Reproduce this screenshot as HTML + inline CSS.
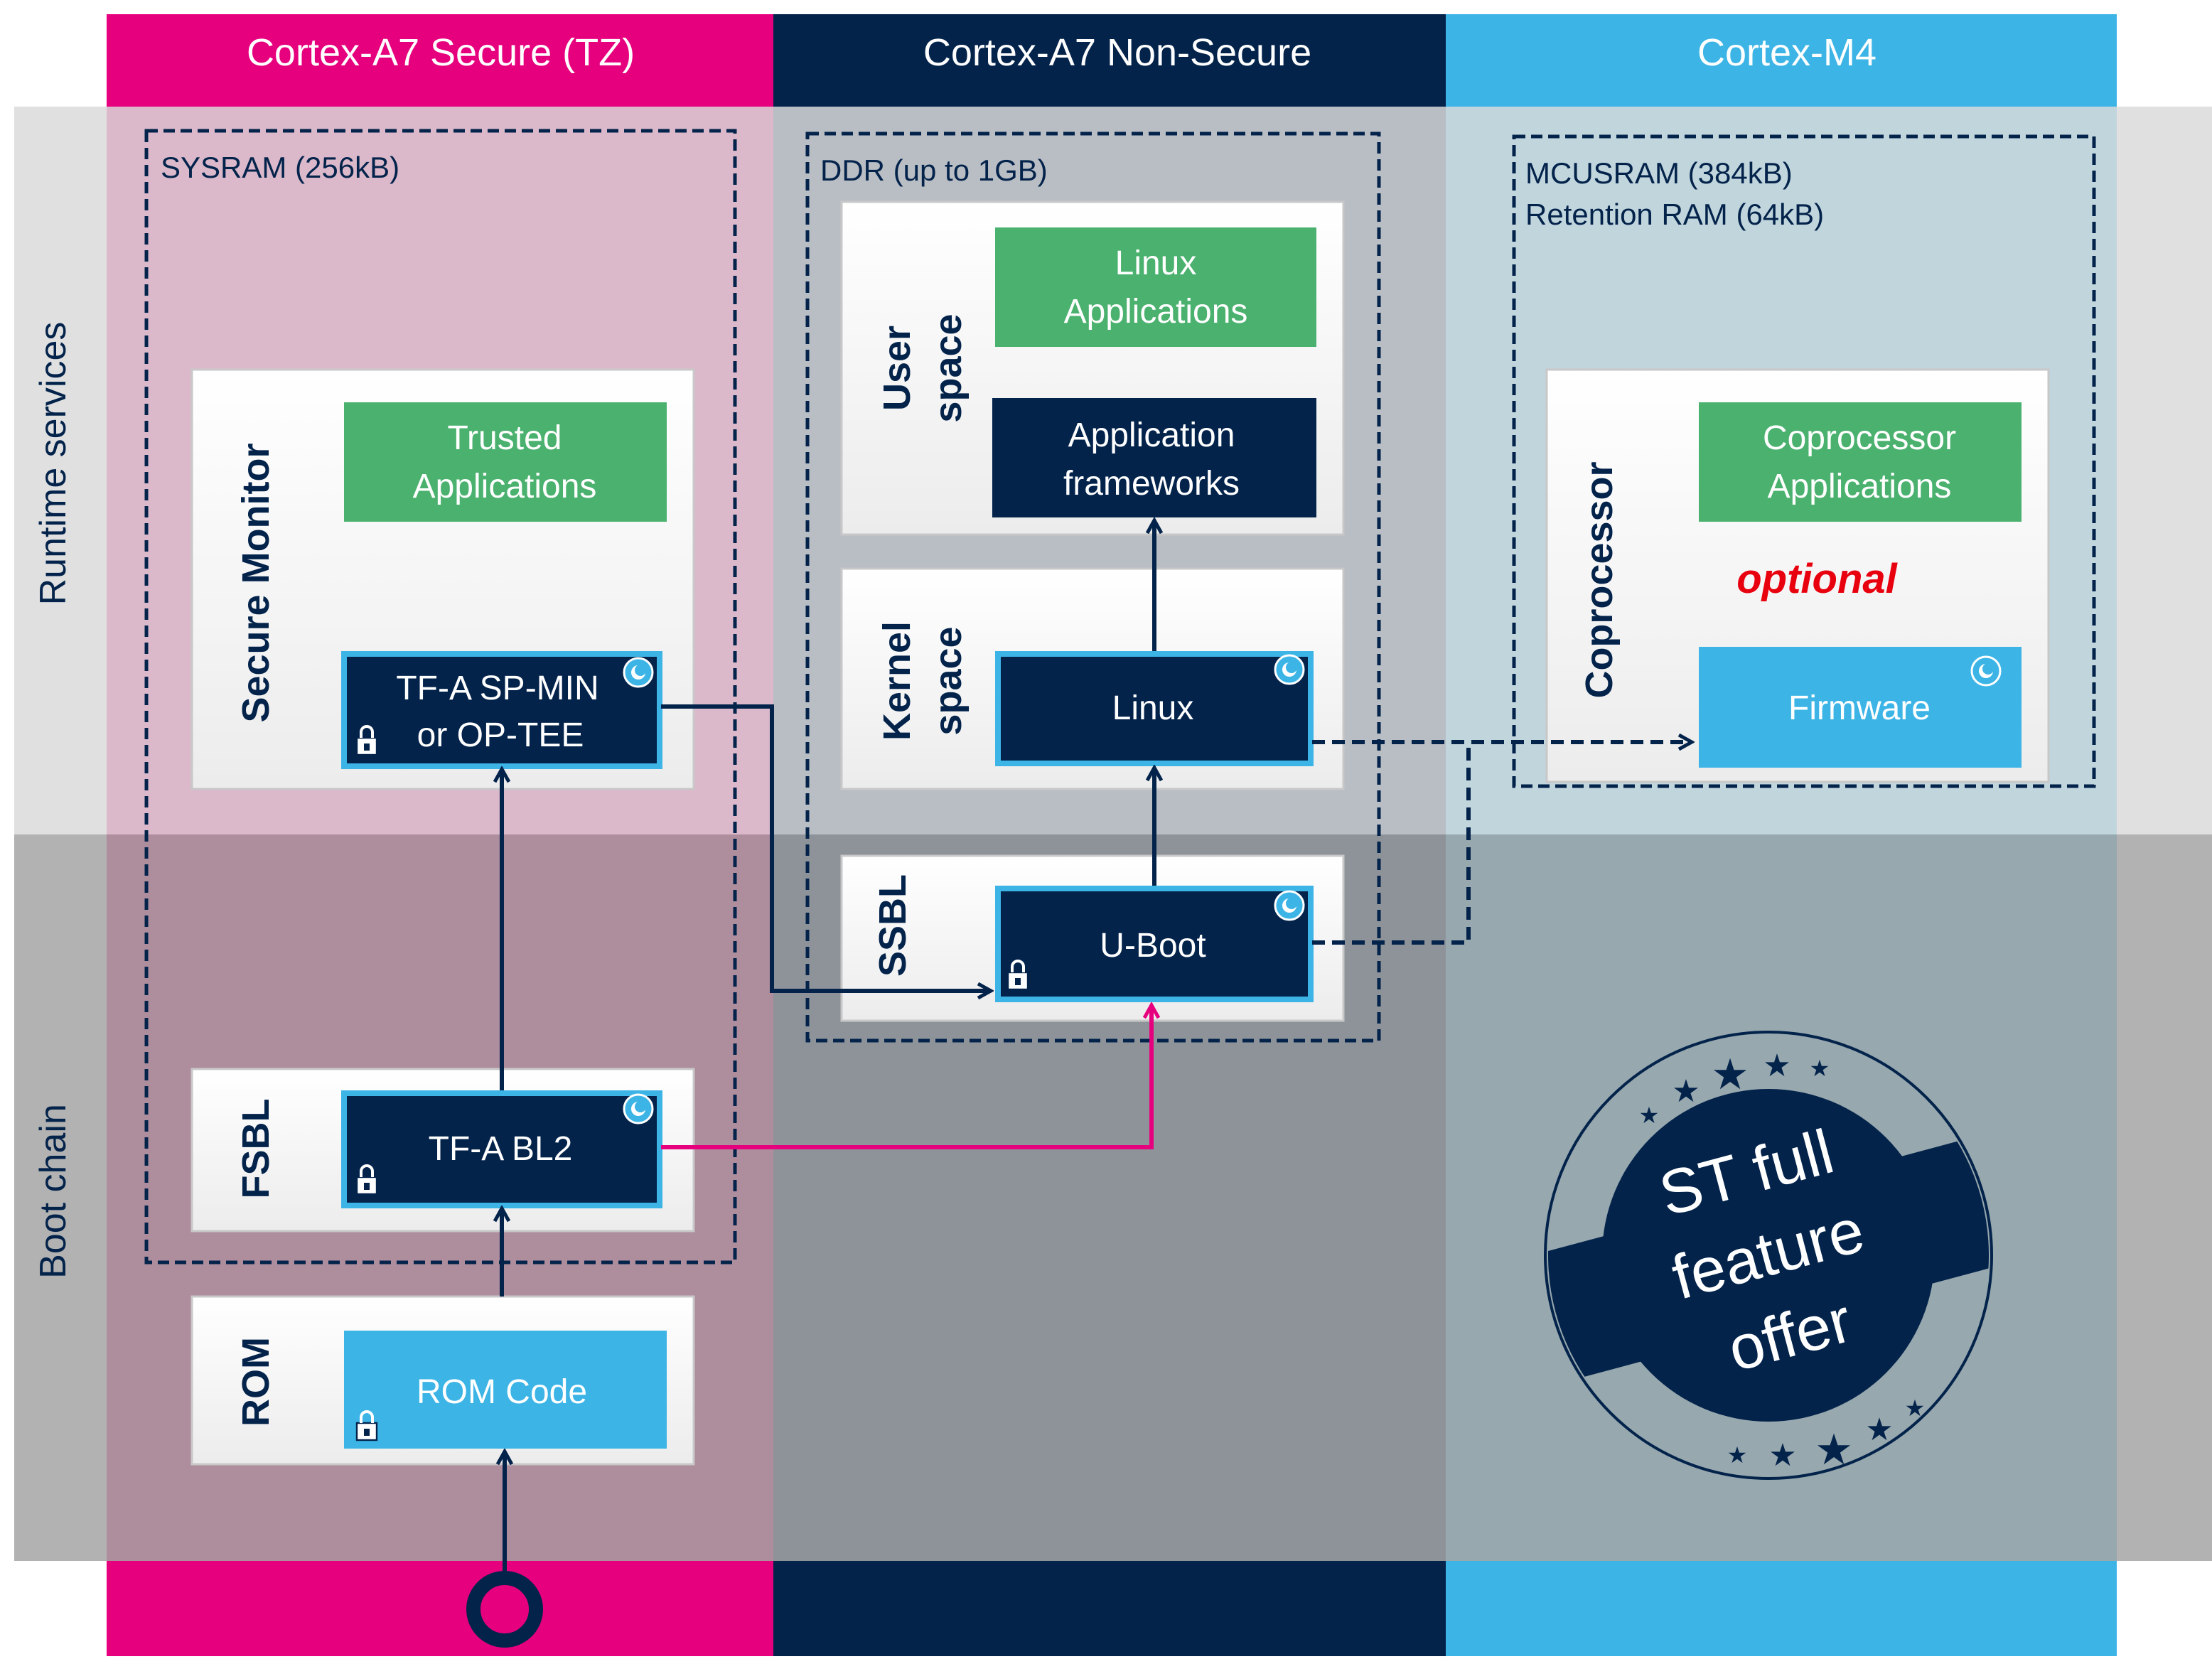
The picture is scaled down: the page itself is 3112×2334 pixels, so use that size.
<!DOCTYPE html>
<html><head><meta charset="utf-8"><style>
html,body{margin:0;padding:0;background:#fff}
svg{display:block}
text{font-family:"Liberation Sans",sans-serif}
</style></head><body>
<svg width="3112" height="2334" viewBox="0 0 1556 1167" xmlns="http://www.w3.org/2000/svg">
<defs>
<linearGradient id="wg" x1="0" y1="0" x2="0" y2="1"><stop offset="0" stop-color="#ffffff"/><stop offset="1" stop-color="#ececec"/></linearGradient>
<marker id="ah" viewBox="0 0 12 12" refX="10" refY="6" markerWidth="12" markerHeight="12" markerUnits="userSpaceOnUse" orient="auto"><path d="M1,1 L10,6 L1,11" fill="none" stroke="#03234b" stroke-width="2.5"/></marker>
<marker id="ahp" viewBox="0 0 12 12" refX="10" refY="6" markerWidth="12" markerHeight="12" markerUnits="userSpaceOnUse" orient="auto"><path d="M1,1 L10,6 L1,11" fill="none" stroke="#e6007e" stroke-width="2.5"/></marker>
<clipPath id="oc"><circle cx="1244" cy="883" r="155"/></clipPath>
<g id="ic"><circle cx="0" cy="0" r="10" fill="#3cb4e6" stroke="#fff" stroke-width="1.5"/><circle cx="0" cy="0" r="5" fill="#fff"/><circle cx="1.5" cy="-1.5" r="4" fill="#3cb4e6"/></g>
<g id="lk"><rect x="-7" y="-4" width="14" height="12" fill="#fff" stroke="#03234b" stroke-width="1.2"/><path d="M-4,-4 v-4 a4,4 0 0 1 8,0 v4" fill="none" stroke="#fff" stroke-width="2"/><rect x="-2" y="0" width="4" height="5" fill="#03234b"/></g>
</defs>
<rect width="1556" height="1167" fill="#fff"/>
<!-- bands -->
<rect x="10" y="75" width="1546" height="512" fill="#e0e0e0"/>
<rect x="10" y="587" width="1546" height="511" fill="#b2b2b2"/>
<rect x="75" y="75" width="469" height="512" fill="#dbb9cb"/>
<rect x="544" y="75" width="473" height="512" fill="#b9bdc4"/>
<rect x="1017" y="75" width="472" height="512" fill="#c1d5dd"/>
<rect x="75" y="587" width="469" height="511" fill="#ae8d9d"/>
<rect x="544" y="587" width="473" height="511" fill="#8e939a"/>
<rect x="1017" y="587" width="472" height="511" fill="#97a8ae"/>
<!-- headers -->
<rect x="75" y="10" width="469" height="65" fill="#e6007e"/>
<rect x="544" y="10" width="473" height="65" fill="#03234b"/>
<rect x="1017" y="10" width="472" height="65" fill="#3cb4e6"/>
<rect x="75" y="1098" width="469" height="67" fill="#e6007e"/>
<rect x="544" y="1098" width="473" height="67" fill="#03234b"/>
<rect x="1017" y="1098" width="472" height="67" fill="#3cb4e6"/>
<g fill="#fff" font-size="27" text-anchor="middle">
<text x="310" y="46">Cortex-A7 Secure (TZ)</text>
<text x="786" y="46">Cortex-A7 Non-Secure</text>
<text x="1257" y="46">Cortex-M4</text>
</g>
<g fill="#03234b" font-size="26" text-anchor="middle">
<text transform="translate(46,326) rotate(-90)">Runtime services</text>
<text transform="translate(46,838) rotate(-90)">Boot chain</text>
</g>
<!-- dashed containers -->
<g fill="none" stroke="#03234b" stroke-width="2.5" stroke-dasharray="8,4">
<rect x="103" y="92" width="414" height="796"/>
<rect x="568" y="94" width="402" height="638"/>
<rect x="1065" y="96" width="408" height="457"/>
</g>
<g fill="#03234b" font-size="21">
<text x="113" y="125">SYSRAM (256kB)</text>
<text x="577" y="127">DDR (up to 1GB)</text>
<text x="1073" y="129">MCUSRAM (384kB)</text>
<text x="1073" y="158">Retention RAM (64kB)</text>
</g>
<!-- white boxes -->
<g fill="url(#wg)" stroke="#c8c8c8" stroke-width="1.5">
<rect x="135" y="260" width="353" height="295"/>
<rect x="135" y="752" width="353" height="114"/>
<rect x="135" y="912" width="353" height="118"/>
<rect x="592" y="142" width="353" height="234"/>
<rect x="592" y="400" width="353" height="155"/>
<rect x="592" y="602" width="353" height="116"/>
<rect x="1088" y="260" width="353" height="290"/>
</g>
<g fill="#03234b" font-size="27" font-weight="bold" text-anchor="middle">
<text transform="translate(189,410) rotate(-90)">Secure Monitor</text>
<text transform="translate(189,808) rotate(-90)">FSBL</text>
<text transform="translate(189,972) rotate(-90)">ROM</text>
<text transform="translate(640,259) rotate(-90)">User</text>
<text transform="translate(676,259) rotate(-90)">space</text>
<text transform="translate(640,479) rotate(-90)">Kernel</text>
<text transform="translate(676,479) rotate(-90)">space</text>
<text transform="translate(637,651) rotate(-90)">SSBL</text>
<text transform="translate(1134,408) rotate(-90)">Coprocessor</text>
</g>
<!-- green -->
<g fill="#4bb16e">
<rect x="242" y="283" width="227" height="84"/>
<rect x="700" y="160" width="226" height="84"/>
<rect x="1195" y="283" width="227" height="84"/>
</g>
<!-- cyan -->
<g fill="#3cb4e6">
<rect x="242" y="936" width="227" height="83"/>
<rect x="1195" y="455" width="227" height="85"/>
</g>
<!-- navy -->
<rect x="698" y="280" width="228" height="84" fill="#03234b"/>
<g fill="#03234b" stroke="#3cb4e6" stroke-width="4">
<rect x="242" y="460" width="222" height="79"/>
<rect x="242" y="769" width="222" height="79"/>
<rect x="702" y="460" width="220" height="77"/>
<rect x="702" y="625" width="220" height="78"/>
</g>
<g fill="#fff" font-size="24" text-anchor="middle">
<text x="355" y="316">Trusted</text><text x="355" y="350">Applications</text>
<text x="813" y="193">Linux</text><text x="813" y="227">Applications</text>
<text x="1308" y="316">Coprocessor</text><text x="1308" y="350">Applications</text>
<text x="810" y="314">Application</text><text x="810" y="348">frameworks</text>
<text x="350" y="492">TF-A SP-MIN</text><text x="352" y="525">or OP-TEE</text>
<text x="352" y="816">TF-A BL2</text>
<text x="353" y="987">ROM Code</text>
<text x="811" y="506">Linux</text>
<text x="811" y="673">U-Boot</text>
<text x="1308" y="506">Firmware</text>
</g>
<text x="1278" y="417" fill="#e8000f" font-size="29" font-weight="bold" font-style="italic" text-anchor="middle">optional</text>
<!-- icons -->
<use href="#ic" x="449" y="473"/><use href="#ic" x="449" y="780"/><use href="#ic" x="907" y="471"/><use href="#ic" x="907" y="637"/><use href="#ic" x="1397" y="472"/>
<use href="#lk" x="258" y="523"/><use href="#lk" x="258" y="832"/><use href="#lk" x="258" y="1005"/><use href="#lk" x="716" y="688"/>
<!-- arrows -->
<g fill="none" stroke="#03234b" stroke-width="3">
<line x1="355" y1="1105" x2="355" y2="1021" marker-end="url(#ah)"/>
<line x1="353" y1="912" x2="353" y2="850" marker-end="url(#ah)"/>
<line x1="353" y1="767" x2="353" y2="541" marker-end="url(#ah)"/>
<polyline points="465,497 543,497 543,697 697,697" marker-end="url(#ah)"/>
<line x1="812" y1="623" x2="812" y2="540" marker-end="url(#ah)"/>
<line x1="812" y1="458" x2="812" y2="366" marker-end="url(#ah)"/>
<polyline points="923,522 1190,522" stroke-dasharray="9,5" marker-end="url(#ah)"/>
<polyline points="923,663 1033,663 1033,522" stroke-dasharray="9,5"/>
</g>
<polyline points="465,807 810,807 810,707" fill="none" stroke="#e6007e" stroke-width="3" marker-end="url(#ahp)"/>
<circle cx="355" cy="1132" r="22" fill="#e6007e" stroke="#03234b" stroke-width="10"/>
<!-- stamp -->
<circle cx="1244" cy="883" r="157" fill="none" stroke="#03234b" stroke-width="2"/>
<circle cx="1244" cy="883" r="117" fill="#03234b"/>
<rect x="1060" y="840" width="370" height="92" fill="#03234b" clip-path="url(#oc)" transform="rotate(-15 1244 883)"/>
<g fill="#fff" font-size="44" text-anchor="middle" transform="rotate(-15 1244 883)">
<text x="1244" y="838">ST full</text>
<text x="1244" y="897">feature</text>
<text x="1244" y="956">offer</text>
</g>
<g fill="#03234b" font-size="22" text-anchor="middle">
<text x="1160" y="790" font-size="16">★</text><text x="1186" y="775">★</text><text x="1217" y="766" font-size="30">★</text><text x="1250" y="757">★</text><text x="1280" y="757" font-size="16">★</text>
<text x="1222" y="1029" font-size="16">★</text><text x="1254" y="1031">★</text><text x="1290" y="1030" font-size="30">★</text><text x="1322" y="1013">★</text><text x="1347" y="996" font-size="16">★</text>
</g>
</svg>
</body></html>
